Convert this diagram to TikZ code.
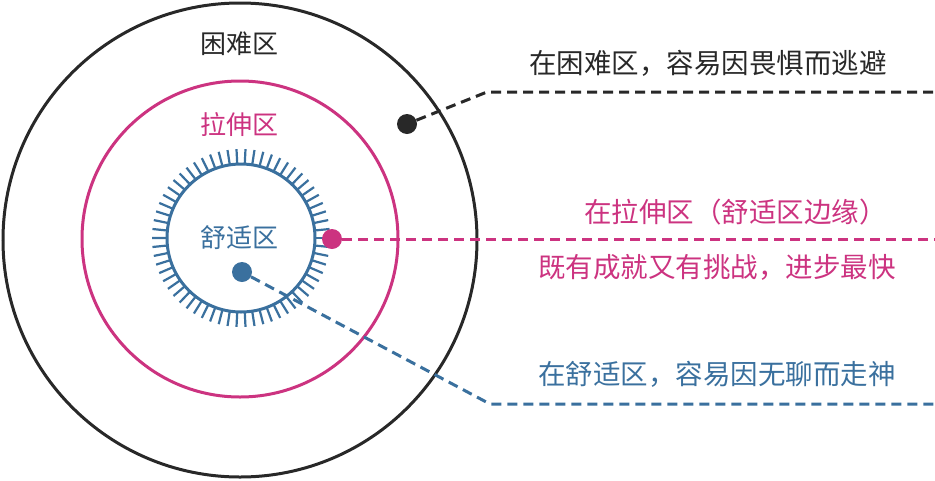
\documentclass[tikz,border=0pt]{standalone}
\usepackage{fontspec}
\setmainfont{Noto Sans CJK SC}
\definecolor{zblack}{RGB}{40,40,40}
\definecolor{zpink}{RGB}{204,51,128}
\definecolor{zblue}{RGB}{58,112,158}
\tikzset{
  ring/.style={circle, draw, line width=3pt, inner sep=0pt},
  dotnode/.style={circle, fill, inner sep=0pt, minimum size=20pt},
  leader/.style={line width=3pt, dash pattern=on 10pt off 6pt},
  zonelabel/.style={font=\fontsize{26}{30}\selectfont, inner sep=0pt},
  note/.style={font=\fontsize{27.5}{32}\selectfont, inner sep=0pt, anchor=west},
  ticklet/.style={line width=2.2pt, zblue}
}
\begin{document}
\begin{tikzpicture}[x=1pt,y=-1pt]
\useasboundingbox (0,0) rectangle (935,480);
% circles
\node[ring, zblack, minimum size=474pt] (outer) at (240,240) {};
\node[ring, zpink, minimum size=316pt] (middle) at (240,239) {};
\node[ring, zblue, minimum size=148pt] (inner) at (241,238) {};
\foreach \a in {0,5.8064,...,358}
  \draw[ticklet] (inner.center) ++(\a:74) -- ++(\a:15);
% zone labels
\node[zonelabel, text=zblack] (lhard) at (239,44) {困难区};
\node[zonelabel, text=zpink] (lstretch) at (239,125) {拉伸区};
\node[zonelabel, text=zblue] (lcomfort) at (239,238) {舒适区};
% dots
\node[dotnode, fill=zblack] (bdot) at (407,124) {};
\node[dotnode, fill=zpink] (pdot) at (332,239) {};
\node[dotnode, fill=zblue] (udot) at (242,272) {};
% leader coordinates
\coordinate (bcorner) at (487,92);
\coordinate (bend) at (935,92);
\coordinate (pend) at (935,239);
\coordinate (ucorner) at (490,404);
\coordinate (uend) at (935,404);
\draw[leader, zblack] (bdot) -- (bcorner) -- (bend);
\draw[leader, zpink] (pdot) -- (pend);
\draw[leader, zblue] (udot) -- (ucorner) -- (uend);
% notes
\node[note, text=zblack] (nhard) at (529,63) {在困难区，容易因畏惧而逃避};
\node[note, text=zpink] (nstretch1) at (584,212) {在拉伸区（舒适区边缘）};
\node[note, text=zpink] (nstretch2) at (538,267.5) {既有成就又有挑战，进步最快};
\node[note, text=zblue] (ncomfort) at (538,374) {在舒适区，容易因无聊而走神};
\end{tikzpicture}
\end{document}
